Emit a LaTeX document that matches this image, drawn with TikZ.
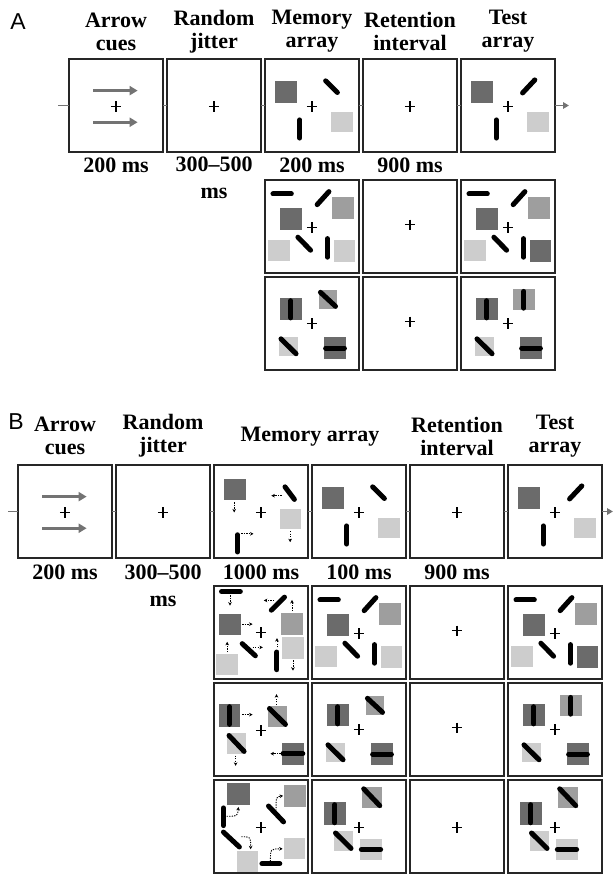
\documentclass[tikz,border=0pt]{standalone}
\usepackage{fontspec}
\setmainfont{Liberation Serif}
\newfontfamily\lsans{Liberation Sans}
\usetikzlibrary{arrows.meta}
\definecolor{cdk}{HTML}{6B6B6B}
\definecolor{cmd}{HTML}{9E9E9E}
\definecolor{clt}{HTML}{CDCDCD}
\definecolor{ccn}{HTML}{737373}
\tikzset{
 frm/.style={draw=black!85,line width=1.6pt,minimum width=94pt,minimum height=93pt,inner sep=0pt,outer sep=0pt,fill=white},
 conn/.style={draw=ccn,line width=1.6pt},
 conntip/.style={conn,-{Triangle[length=6pt,width=6.5pt]}},
 hdr/.style={font=\bfseries\fontsize{22}{23}\selectfont,align=center,inner sep=0pt},
 tim/.style={font=\bfseries\fontsize{22}{27}\selectfont,align=center,inner sep=0pt},
 pnl/.style={font=\lsans\fontsize{23}{24}\selectfont,inner sep=0pt},
 barst/.style={line width=5pt,line cap=round,black},
 crossl/.style={line width=1.4pt,black},
 mv/.style={black,line width=0.9pt,dash pattern=on 1.3pt off 1.2pt,-{Stealth[length=3.5pt,width=3.6pt]}},
 cue/.style={draw=ccn,line width=3pt,-{Triangle[length=8pt,width=9pt]}},
}
\newcommand{\RScr}[2]{\draw[crossl] (#1-0.055,#2) -- (#1+0.055,#2) (#1,#2-0.055) -- (#1,#2+0.055);}
\newcommand{\RScue}{%
 \draw[cue] (0.26,0.34) -- (0.73,0.34);
 \draw[cue] (0.26,0.68) -- (0.73,0.68);
 \RScr{0.5}{0.51}}
\newcommand{\RSmemfour}{%
 \fill[cdk] (0.11,0.235) rectangle (0.345,0.47);
 \draw[barst] (0.645,0.235) -- (0.77,0.36);
 \RScr{0.5}{0.51}
 \draw[barst] (0.37,0.655) -- (0.37,0.85);
 \fill[clt] (0.70,0.565) rectangle (0.935,0.79);}
\newcommand{\RStestfour}{%
 \fill[cdk] (0.11,0.235) rectangle (0.345,0.47);
 \draw[barst] (0.655,0.365) -- (0.785,0.225);
 \RScr{0.5}{0.51}
 \draw[barst] (0.375,0.655) -- (0.375,0.85);
 \fill[clt] (0.70,0.565) rectangle (0.935,0.79);}
\newcommand{\RSmotfour}{%
 \fill[cdk] (0.105,0.15) rectangle (0.34,0.38);
 \draw[mv] (0.215,0.40) -- (0.215,0.51);
 \draw[barst] (0.755,0.235) -- (0.855,0.37);
 \draw[mv] (0.72,0.33) -- (0.61,0.33);
 \RScr{0.5}{0.51}
 \fill[clt] (0.70,0.47) rectangle (0.93,0.69);
 \draw[mv] (0.81,0.71) -- (0.81,0.83);
 \draw[barst] (0.25,0.75) -- (0.25,0.935);
 \draw[mv] (0.29,0.74) -- (0.42,0.74);}
\newcommand{\RSeight}[1]{%
 \draw[barst] (0.085,0.15) -- (0.28,0.15);
 \draw[barst] (0.555,0.265) -- (0.68,0.125);
 \fill[cmd] (0.715,0.185) rectangle (0.95,0.42);
 \fill[cdk] (0.155,0.305) rectangle (0.39,0.54);
 \RScr{0.5}{0.51}
 \fill[clt] (0.03,0.645) rectangle (0.265,0.87);
 \draw[barst] (0.35,0.615) -- (0.485,0.755);
 \draw[barst] (0.665,0.63) -- (0.665,0.83);
 \fill[#1] (0.73,0.65) rectangle (0.96,0.88);}
\newcommand{\RSmoteight}{%
 \draw[barst] (0.08,0.06) -- (0.28,0.06);
 \draw[mv] (0.17,0.10) -- (0.17,0.21);
 \draw[barst] (0.61,0.26) -- (0.75,0.12);
 \draw[mv] (0.64,0.155) -- (0.53,0.155);
 \draw[mv] (0.83,0.27) -- (0.83,0.15);
 \fill[cmd] (0.71,0.29) rectangle (0.95,0.53);
 \fill[cdk] (0.05,0.30) rectangle (0.29,0.53);
 \draw[mv] (0.30,0.41) -- (0.41,0.41);
 \RScr{0.5}{0.50}
 \draw[barst] (0.30,0.62) -- (0.44,0.75);
 \draw[mv] (0.41,0.66) -- (0.52,0.66);
 \draw[mv] (0.14,0.71) -- (0.14,0.60);
 \fill[clt] (0.025,0.73) rectangle (0.26,0.96);
 \draw[barst] (0.67,0.71) -- (0.67,0.90);
 \draw[mv] (0.67,0.66) -- (0.67,0.56);
 \fill[clt] (0.72,0.55) rectangle (0.96,0.78);
 \draw[mv] (0.84,0.80) -- (0.84,0.91);}
\newcommand{\RSconjmem}{%
 \fill[cdk] (0.16,0.23) rectangle (0.39,0.465); \draw[barst] (0.275,0.255) -- (0.275,0.44);
 \fill[cmd] (0.57,0.14) rectangle (0.77,0.34); \draw[barst] (0.59,0.165) -- (0.75,0.315);
 \RScr{0.5}{0.50}
 \fill[clt] (0.15,0.64) rectangle (0.35,0.85); \draw[barst] (0.17,0.665) -- (0.33,0.825);
 \fill[cdk] (0.63,0.65) rectangle (0.86,0.88); \draw[barst] (0.645,0.765) -- (0.845,0.765);}
\newcommand{\RSconjtest}{%
 \fill[cdk] (0.16,0.23) rectangle (0.39,0.465); \draw[barst] (0.275,0.255) -- (0.275,0.44);
 \fill[cmd] (0.555,0.13) rectangle (0.785,0.36); \draw[barst] (0.67,0.155) -- (0.67,0.335);
 \RScr{0.5}{0.50}
 \fill[clt] (0.15,0.64) rectangle (0.35,0.85); \draw[barst] (0.17,0.665) -- (0.33,0.825);
 \fill[cdk] (0.63,0.65) rectangle (0.86,0.88); \draw[barst] (0.645,0.765) -- (0.845,0.765);}
\newcommand{\RSmotconj}{%
 \fill[cdk] (0.05,0.23) rectangle (0.28,0.47); \draw[barst] (0.165,0.255) -- (0.165,0.445);
 \draw[mv] (0.30,0.34) -- (0.41,0.34);
 \fill[cmd] (0.57,0.25) rectangle (0.78,0.47); \draw[barst] (0.59,0.275) -- (0.76,0.445);
 \draw[mv] (0.665,0.235) -- (0.665,0.12);
 \RScr{0.5}{0.51}
 \fill[clt] (0.14,0.54) rectangle (0.34,0.76); \draw[barst] (0.16,0.565) -- (0.32,0.735);
 \draw[mv] (0.23,0.78) -- (0.23,0.89);
 \fill[cdk] (0.72,0.64) rectangle (0.96,0.88); \draw[barst] (0.735,0.76) -- (0.945,0.76);
 \draw[mv] (0.71,0.76) -- (0.60,0.76);}
\newcommand{\RSswap}{%
 \fill[cdk] (0.125,0.24) rectangle (0.36,0.485); \draw[barst] (0.2425,0.265) -- (0.2425,0.46);
 \fill[cmd] (0.53,0.07) rectangle (0.74,0.30); \draw[barst] (0.55,0.095) -- (0.72,0.275);
 \RScr{0.5}{0.51}
 \fill[clt] (0.23,0.545) rectangle (0.435,0.76); \draw[barst] (0.25,0.57) -- (0.415,0.735);
 \fill[clt] (0.51,0.63) rectangle (0.745,0.865); \draw[barst] (0.525,0.7475) -- (0.73,0.7475);}
\newcommand{\RSmotswap}{%
 \fill[cdk] (0.14,0.03) rectangle (0.38,0.27);
 \draw[barst] (0.10,0.30) -- (0.10,0.49);
 \draw[mv] (0.135,0.39) .. controls (0.25,0.39) .. (0.26,0.29);
 \fill[cmd] (0.745,0.055) rectangle (0.975,0.285);
 \draw[barst] (0.58,0.28) -- (0.74,0.45);
 \draw[mv] (0.66,0.33) .. controls (0.66,0.18) .. (0.735,0.17);
 \RScr{0.5}{0.51}
 \draw[barst] (0.10,0.56) -- (0.27,0.72);
 \draw[mv] (0.29,0.61) .. controls (0.39,0.61) .. (0.39,0.745);
 \fill[clt] (0.24,0.76) rectangle (0.47,0.985);
 \fill[clt] (0.74,0.62) rectangle (0.97,0.85);
 \draw[barst] (0.51,0.90) -- (0.70,0.90);
 \draw[mv] (0.60,0.875) .. controls (0.60,0.74) .. (0.73,0.74);}
\begin{document}
\begin{tikzpicture}[x=1pt,y=-1pt]
\useasboundingbox (0,0) rectangle (613,874);
% ---------------- Panel A ----------------
\node[pnl] (labA) at (18,22) {A};
\node[hdr] (ha1) at (116,31.5) {Arrow\\cues};
\node[hdr] (ha2) at (214,31.5) {Random\\jitter};
\node[hdr] (ha3) at (312,31.5) {Memory\\array};
\node[hdr] (ha4) at (410,31.5) {Retention\\interval};
\node[hdr] (ha5) at (508,31.5) {Test\\array};
\node[frm] (a1) at (116,105.5) {};
\node[frm] (a2) at (214,105.5) {};
\node[frm] (a3) at (312,105.5) {};
\node[frm] (a4) at (410,105.5) {};
\node[frm] (a5) at (508,105.5) {};
\coordinate (aL) at (58,105.5);
\coordinate (aR) at (569,105.5);
\draw[conn] (aL) -- (a1);
\draw[conn] (a1) -- (a2);
\draw[conn] (a2) -- (a3);
\draw[conn] (a3) -- (a4);
\draw[conn] (a4) -- (a5);
\draw[conntip] (a5) -- (aR);
\node[tim] (ta1) at (116,165) {200 ms};
\node[tim] (ta2) at (214,178) {300--500\\ms};
\node[tim] (ta3) at (312,165) {200 ms};
\node[tim] (ta4) at (410,165) {900 ms};
\node[frm] (a23) at (312,226.5) {};
\node[frm] (a24) at (410,226.5) {};
\node[frm] (a25) at (508,226.5) {};
\node[frm] (a33) at (312,323.5) {};
\node[frm] (a34) at (410,323.5) {};
\node[frm] (a35) at (508,323.5) {};
\begin{scope}[shift={(a1.north west)},x=94pt,y=-93pt] \RScue \end{scope}
\begin{scope}[shift={(a2.north west)},x=94pt,y=-93pt] \RScr{0.5}{0.51} \end{scope}
\begin{scope}[shift={(a3.north west)},x=94pt,y=-93pt] \RSmemfour \end{scope}
\begin{scope}[shift={(a4.north west)},x=94pt,y=-93pt] \RScr{0.5}{0.51} \end{scope}
\begin{scope}[shift={(a5.north west)},x=94pt,y=-93pt] \RStestfour \end{scope}
\begin{scope}[shift={(a23.north west)},x=94pt,y=-93pt] \RSeight{clt} \end{scope}
\begin{scope}[shift={(a24.north west)},x=94pt,y=-93pt] \RScr{0.5}{0.48} \end{scope}
\begin{scope}[shift={(a25.north west)},x=94pt,y=-93pt] \RSeight{cdk} \end{scope}
\begin{scope}[shift={(a33.north west)},x=94pt,y=-93pt] \RSconjmem \end{scope}
\begin{scope}[shift={(a34.north west)},x=94pt,y=-93pt] \RScr{0.5}{0.48} \end{scope}
\begin{scope}[shift={(a35.north west)},x=94pt,y=-93pt] \RSconjtest \end{scope}
% ---------------- Panel B ----------------
\node[pnl] (labB) at (16,422) {B};
\node[hdr] (hb1) at (65,436) {Arrow\\cues};
\node[hdr] (hb2) at (163,436) {Random\\jitter};
\node[hdr] (hb3) at (310,437) {Memory array};
\node[hdr] (hb5) at (457,436) {Retention\\interval};
\node[hdr] (hb6) at (555,436) {Test\\array};
\node[frm] (b1) at (65,511.5) {};
\node[frm] (b2) at (163,511.5) {};
\node[frm] (b3) at (261,511.5) {};
\node[frm] (b4) at (359,511.5) {};
\node[frm] (b5) at (457,511.5) {};
\node[frm] (b6) at (555,511.5) {};
\coordinate (bL) at (8,511.5);
\coordinate (bR) at (613,511.5);
\draw[conn] (bL) -- (b1);
\draw[conn] (b1) -- (b2);
\draw[conn] (b2) -- (b3);
\draw[conn] (b3) -- (b4);
\draw[conn] (b4) -- (b5);
\draw[conn] (b5) -- (b6);
\draw[conntip] (b6) -- (bR);
\node[tim] (tb1) at (65,572) {200 ms};
\node[tim] (tb2) at (163,586) {300--500\\ms};
\node[tim] (tb3) at (261,572) {1000 ms};
\node[tim] (tb4) at (359,572) {100 ms};
\node[tim] (tb5) at (457,572) {900 ms};
\node[frm] (b23) at (261,632.5) {};
\node[frm] (b24) at (359,632.5) {};
\node[frm] (b25) at (457,632.5) {};
\node[frm] (b26) at (555,632.5) {};
\node[frm] (b33) at (261,729.5) {};
\node[frm] (b34) at (359,729.5) {};
\node[frm] (b35) at (457,729.5) {};
\node[frm] (b36) at (555,729.5) {};
\node[frm] (b43) at (261,826.5) {};
\node[frm] (b44) at (359,826.5) {};
\node[frm] (b45) at (457,826.5) {};
\node[frm] (b46) at (555,826.5) {};
\begin{scope}[shift={(b1.north west)},x=94pt,y=-93pt] \RScue \end{scope}
\begin{scope}[shift={(b2.north west)},x=94pt,y=-93pt] \RScr{0.5}{0.51} \end{scope}
\begin{scope}[shift={(b3.north west)},x=94pt,y=-93pt] \RSmotfour \end{scope}
\begin{scope}[shift={(b4.north west)},x=94pt,y=-93pt] \RSmemfour \end{scope}
\begin{scope}[shift={(b5.north west)},x=94pt,y=-93pt] \RScr{0.5}{0.51} \end{scope}
\begin{scope}[shift={(b6.north west)},x=94pt,y=-93pt] \RStestfour \end{scope}
\begin{scope}[shift={(b23.north west)},x=94pt,y=-93pt] \RSmoteight \end{scope}
\begin{scope}[shift={(b24.north west)},x=94pt,y=-93pt] \RSeight{clt} \end{scope}
\begin{scope}[shift={(b25.north west)},x=94pt,y=-93pt] \RScr{0.5}{0.48} \end{scope}
\begin{scope}[shift={(b26.north west)},x=94pt,y=-93pt] \RSeight{cdk} \end{scope}
\begin{scope}[shift={(b33.north west)},x=94pt,y=-93pt] \RSmotconj \end{scope}
\begin{scope}[shift={(b34.north west)},x=94pt,y=-93pt] \RSconjmem \end{scope}
\begin{scope}[shift={(b35.north west)},x=94pt,y=-93pt] \RScr{0.5}{0.48} \end{scope}
\begin{scope}[shift={(b36.north west)},x=94pt,y=-93pt] \RSconjtest \end{scope}
\begin{scope}[shift={(b43.north west)},x=94pt,y=-93pt] \RSmotswap \end{scope}
\begin{scope}[shift={(b44.north west)},x=94pt,y=-93pt] \RSswap \end{scope}
\begin{scope}[shift={(b45.north west)},x=94pt,y=-93pt] \RScr{0.5}{0.51} \end{scope}
\begin{scope}[shift={(b46.north west)},x=94pt,y=-93pt] \RSswap \end{scope}
\end{tikzpicture}
\end{document}
